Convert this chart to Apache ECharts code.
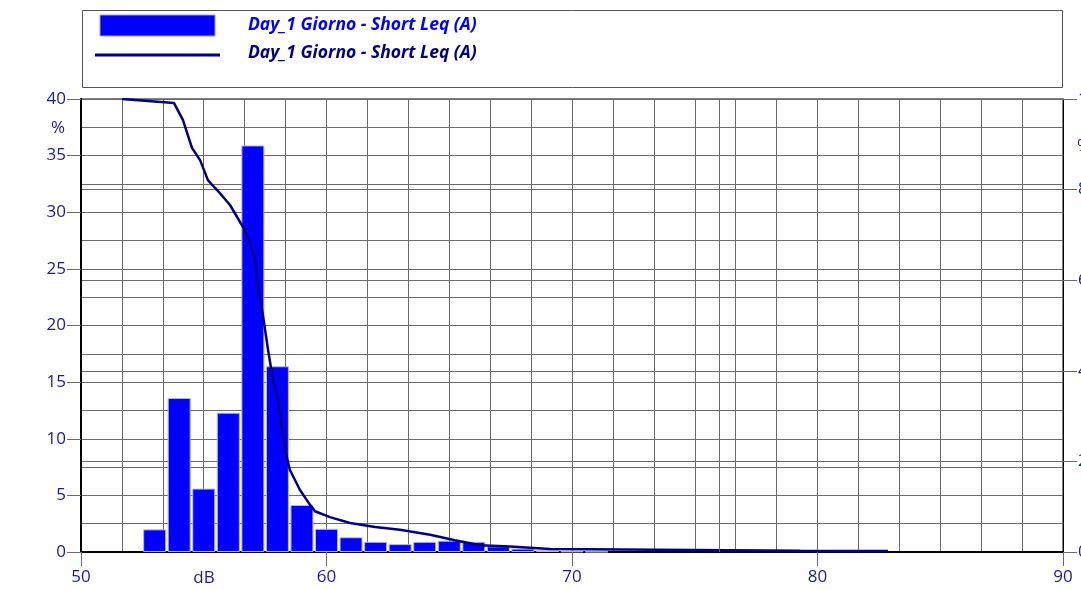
<!DOCTYPE html>
<html>
<head>
<meta charset="utf-8">
<script src="https://cdn.jsdelivr.net/npm/echarts@6/dist/echarts.min.js"></script>
<style>
html,body{margin:0;padding:0;background:#fff;}
#chart{width:1081px;height:590px;}
</style>
</head>
<body>
<div id="chart"></div>
<script>
// Histogram: level classes (dB) and percentage of time
const levels = [53, 54, 55, 56, 57, 58, 59, 60, 61, 62, 63, 64, 65, 66, 67, 68, 69, 70, 71];
const percent = [2.0, 13.6, 5.6, 12.3, 35.9, 16.4, 4.15, 2.05, 1.3, 0.9, 0.7, 0.9, 1.0, 0.9, 0.5, 0.3, 0.15, 0.05, 0.03];
// Cumulative (exceedance) curve: level (dB) and percent
const cumLevels = [51.67, 53.79, 54.15, 54.52, 54.85, 55.17, 55.38, 55.66, 56.07, 56.48, 56.68, 56.88, 57.09, 57.17, 57.41, 57.62, 57.82, 58.02, 58.31, 58.51, 58.92, 59.33, 59.53, 60.14, 60.96, 61.98, 62.99, 64.22, 65.23, 66.25, 67.47, 69.1, 79.3, 82.87];
const cumPercent = [100, 99.1, 95.4, 89.2, 86.5, 82.1, 80.8, 79.2, 76.6, 72.8, 71.1, 68.2, 64.5, 60.0, 52.3, 44.6, 38.0, 33.6, 22.5, 18.1, 13.7, 10.4, 9.0, 7.7, 6.4, 5.5, 4.9, 3.8, 2.6, 1.5, 1.2, 0.66, 0.25, 0.2];
const xTicks = [50, 60, 70, 80, 90];
const seriesName = 'Day_1 Giorno - Short Leq (A)';

const chart = echarts.init(document.getElementById('chart'), null, {renderer: 'canvas'});
const labelColor = '#1c1c8a';
const gridColor = '#6a6a6a';
const fontFam = '"Open Sans", "Noto Sans", sans-serif';

const option = {
  animation: false,
  backgroundColor: '#ffffff',
  grid: {left: 81, right: 18, top: 99, bottom: 38, show: true, borderColor: '#000', borderWidth: 1,
         backgroundColor: 'transparent', containLabel: false, outerBoundsMode: 'none'},
  xAxis: [
    {
      type: 'value', min: xTicks[0], max: xTicks[xTicks.length - 1], interval: 10, position: 'bottom',
      axisLine: {show: true, onZero: false, lineStyle: {color: '#000', width: 2}},
      axisTick: {show: true, length: 14, lineStyle: {color: gridColor, width: 1}},
      axisLabel: {color: labelColor, fontSize: 17, fontFamily: fontFam, margin: 17},
      splitLine: {show: false}
    },
    {
      type: 'value', min: 50, max: 90, interval: 40 / 24, position: 'bottom',
      axisLine: {show: false}, axisTick: {show: false}, axisLabel: {show: false},
      splitLine: {show: true, lineStyle: {color: gridColor, width: 1}}
    }
  ],
  yAxis: [
    {
      type: 'value', min: 0, max: 40, interval: 5, position: 'left',
      axisLine: {show: true, onZero: false, lineStyle: {color: '#000', width: 2}},
      axisTick: {show: true, length: 14, lineStyle: {color: gridColor, width: 1}},
      axisLabel: {color: labelColor, fontSize: 17, fontFamily: fontFam, margin: 15},
      splitLine: {show: true, lineStyle: {color: gridColor, width: 1}}
    },
    {
      type: 'value', min: 0, max: 40, interval: 2.5, position: 'left',
      axisLine: {show: false}, axisTick: {show: false}, axisLabel: {show: false},
      splitLine: {show: true, lineStyle: {color: gridColor, width: 1}}
    },
    {
      type: 'value', min: 0, max: 100, interval: 20, position: 'right',
      axisLine: {show: true, lineStyle: {color: '#000', width: 1}},
      axisTick: {show: true, length: 14, lineStyle: {color: gridColor, width: 1}},
      axisLabel: {color: labelColor, fontSize: 17, fontFamily: fontFam, margin: 15, align: 'left'},
      splitLine: {show: true, lineStyle: {color: gridColor, width: 1}}
    }
  ],
  series: [
    {
      name: seriesName,
      type: 'bar',
      xAxisIndex: 0, yAxisIndex: 0,
      barWidth: 23,
      data: levels.map((l, i) => [l, percent[i]]),
      itemStyle: {color: '#0000ff', borderColor: '#b4b4f4', borderWidth: 1},
      markLine: {
        silent: true, symbol: 'none', label: {show: false},
        lineStyle: {color: gridColor, width: 1, type: 'solid'},
        data: [{xAxis: 76}]
      },
      z: 3
    },
    {
      name: seriesName,
      type: 'line',
      xAxisIndex: 0, yAxisIndex: 2,
      showSymbol: false, symbol: 'none',
      data: cumLevels.map((l, i) => [l, cumPercent[i]]),
      lineStyle: {color: '#000080', width: 2.5},
      z: 4
    }
  ],
  graphic: [
    {type: 'rect', shape: {x: 82.5, y: 10.5, width: 980, height: 77}, style: {fill: '#fff', stroke: '#555', lineWidth: 1}, z: 10},
    {type: 'rect', shape: {x: 100, y: 15, width: 115, height: 21}, style: {fill: '#0000ff', stroke: '#9a9af0', lineWidth: 1}, z: 11},
    {type: 'line', shape: {x1: 95, y1: 55, x2: 220, y2: 55}, style: {stroke: '#000080', lineWidth: 3}, z: 11},
    {type: 'text', x: 248, y: 25, style: {text: seriesName, fill: '#0000ff', font: 'italic bold 17.5px "Open Sans", sans-serif', verticalAlign: 'middle'}, z: 11},
    {type: 'text', x: 248, y: 53, style: {text: seriesName, fill: '#000080', font: 'italic bold 17.5px "Open Sans", sans-serif', verticalAlign: 'middle'}, z: 11},
    {type: 'text', x: 58, y: 128, style: {text: '%', fill: labelColor, font: '17px "Open Sans", sans-serif', align: 'center', verticalAlign: 'middle'}, z: 11},
    {type: 'text', x: 204, y: 578, style: {text: 'dB', fill: labelColor, font: '17px "Open Sans", sans-serif', align: 'center', verticalAlign: 'middle'}, z: 11},
    {type: 'text', x: 1077, y: 146, style: {text: '%', fill: labelColor, font: '17px "Open Sans", sans-serif', align: 'left', verticalAlign: 'middle'}, z: 11}
  ]
};
chart.setOption(option);
</script>
</body>
</html>
